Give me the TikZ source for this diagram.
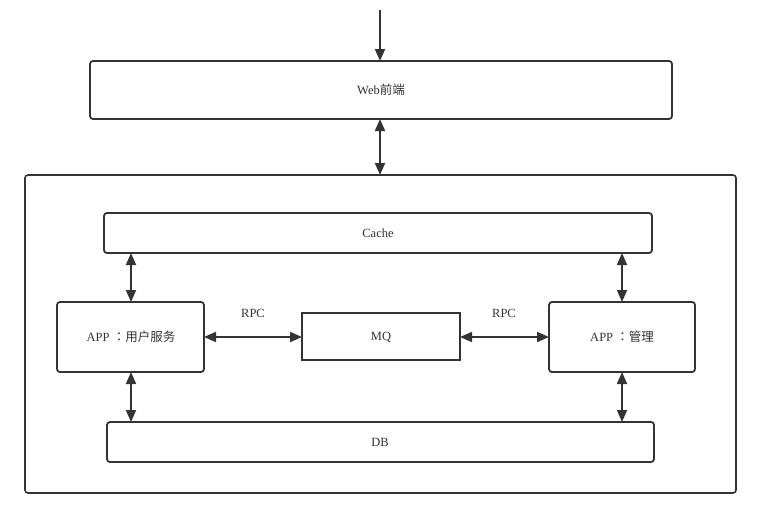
\documentclass[tikz,border=0pt]{standalone}
\usepackage{fontspec}
\setmainfont{Liberation Serif}
\newfontfamily\cjk{Noto Sans CJK SC}
\newfontfamily\cjkpunct{Noto Sans CJK TC}
\usetikzlibrary{arrows.meta}
\definecolor{ink}{HTML}{333333}
\tikzset{
  box/.style={draw=ink, line width=1.8pt, rounded corners=3pt, fill=white},
  plainbox/.style={draw=ink, line width=1.8pt, fill=white},
  tip/.tip={Triangle[length=12pt,width=10pt]},
  link/.style={draw=ink, line width=1.8pt, -tip},
  dlink/.style={draw=ink, line width=1.8pt, tip-tip},
  lbl/.style={font=\fontsize{12.5}{14}\selectfont, text=ink},
}
\begin{document}
\begin{tikzpicture}[x=1pt, y=-1pt]
  \useasboundingbox[fill=white] (0,0) rectangle (768,520);

  % outer service container
  \draw[box, line width=1.6pt] (25,175) rectangle (736,493);

  % boxes
  \draw[box] (90,61) rectangle (672,119);
  \node[lbl] (web) at (381,90) {Web{\cjk 前端}};
  \coordinate (webtop) at (380,61);
  \coordinate (webbot) at (380,119);

  \draw[box] (104,213) rectangle (652,253);
  \node[lbl] (cache) at (378,233) {Cache};

  \draw[box] (57,302) rectangle (204,372);
  \node[lbl] (appuser) at (131,337) {APP {\cjkpunct ：}{\cjk 用户服务}};

  \draw[plainbox] (302,313) rectangle (460,360);
  \node[lbl] (mq) at (381,337) {MQ};

  \draw[box] (549,302) rectangle (695,372);
  \node[lbl] (appadmin) at (622,337) {APP {\cjkpunct ：}{\cjk 管理}};

  \draw[box] (107,422) rectangle (654,462);
  \node[lbl] (db) at (380,442) {DB};

  % anchor points for the connectors
  \coordinate (src) at (380,10);
  \coordinate (cont) at (380,175);
  \coordinate (cacheL) at (131,253);
  \coordinate (cacheR) at (622,253);
  \coordinate (appLt) at (131,302);
  \coordinate (appLb) at (131,372);
  \coordinate (appRt) at (622,302);
  \coordinate (appRb) at (622,372);
  \coordinate (dbL) at (131,422);
  \coordinate (dbR) at (622,422);
  \coordinate (appLr) at (204,337);
  \coordinate (mqL) at (302,337);
  \coordinate (mqR) at (460,337);
  \coordinate (appRl) at (549,337);

  % connectors
  \draw[link] (src) -- (webtop);
  \draw[dlink] (webbot) -- (cont);
  \draw[dlink] (cacheL) -- (appLt);
  \draw[dlink] (cacheR) -- (appRt);
  \draw[dlink] (appLb) -- (dbL);
  \draw[dlink] (appRb) -- (dbR);
  \draw[dlink] (appLr) -- (mqL);
  \draw[dlink] (mqR) -- (appRl);

  \node[lbl] (rpcL) at (253,313) {RPC};
  \node[lbl] (rpcR) at (504,313) {RPC};
\end{tikzpicture}
\end{document}
